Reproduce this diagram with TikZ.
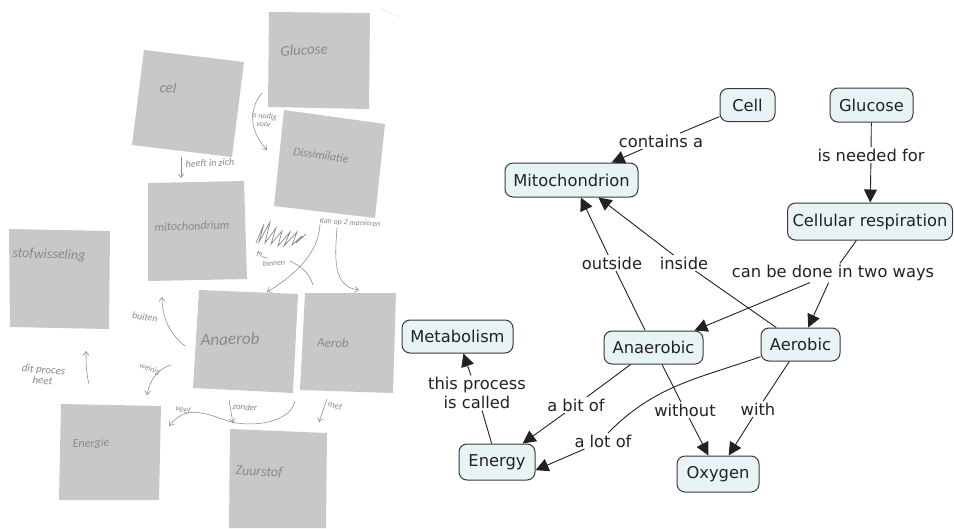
\documentclass[tikz,border=0pt]{standalone}
\usepackage{fontspec}
\setmainfont{DejaVu Sans}
\newfontfamily\handfont{Carlito}
\usetikzlibrary{arrows.meta}
\definecolor{sheet}{HTML}{C8C8C8}
\definecolor{pencil}{HTML}{8A8A8A}
\definecolor{boxfill}{HTML}{E8F3F6}
\definecolor{boxline}{HTML}{3A3A3A}
\definecolor{inkc}{HTML}{222222}
\tikzset{
  sheetbox/.style={fill=sheet,draw=none},
  hand/.style={font=\handfont\fontsize{#1}{#1}\selectfont\itshape,text=pencil,inner sep=0pt,align=center},
  hand/.default=9,
  pen/.style={draw=pencil,line width=0.55pt},
  penarrow/.style={pen,-{Straight Barb[length=4pt,width=6pt]}},
  concept/.style={draw=boxline,fill=boxfill,line width=1pt,rounded corners=8pt,inner sep=0pt,text=inkc,
    font=\fontsize{16.3}{19}\selectfont},
  linkname/.style={inner sep=1.5pt,text=inkc,align=center,font=\fontsize{16.3}{19}\selectfont},
  plain/.style={draw=inkc,line width=0.9pt},
  arrowed/.style={plain,-{Triangle[length=13pt,width=13pt]}}
}
\begin{document}
\begin{tikzpicture}[x=1pt,y=-1pt]
\useasboundingbox (0,0) rectangle (954,528);
\fill[white] (0,0) rectangle (954,528);

% left: sheets
\fill[sheetbox] (269,12) -- (370,13) -- (369,109) -- (268,107) -- cycle;
\fill[sheetbox] (144,50) -- (244,62) -- (232,157) -- (132,145) -- cycle;
\fill[sheetbox] (284,110) -- (385,124) -- (375,218) -- (274,206) -- cycle;
\fill[sheetbox] (148,183) -- (244,181) -- (247,279) -- (148,281) -- cycle;
\fill[sheetbox] (9,229) -- (110,231) -- (109,329) -- (10,327) -- cycle;
\fill[sheetbox] (199,290) -- (298,294) -- (293,393) -- (193,388) -- cycle;
\fill[sheetbox] (305,293) -- (396,293) -- (393,393) -- (300,390) -- cycle;
\fill[sheetbox] (61,404) -- (161,406) -- (159,500) -- (59,500) -- cycle;
\fill[sheetbox] (230,429) -- (327,433) -- (326,528) -- (229,528) -- cycle;

% left: handwriting
\node[hand=15,rotate=3] (hGlucose) at (304,50) {Glucose};
\node[hand=15,rotate=-4] (hCel) at (168,88) {cel};
\node[hand=12,rotate=-8] (hDiss) at (321,155) {Dissimilatie};
\node[hand=12,rotate=2] (hMito) at (192,226) {mitochondrium};
\node[hand=14,rotate=-2] (hStof) at (49,255) {stofwisseling};
\node[hand=17,rotate=2] (hAna) at (230,339) {Anaerob};
\node[hand=13,rotate=-2] (hAer) at (333,343) {Aerob};
\node[hand=12,rotate=2] (hEn) at (91,444) {Energie};
\node[hand=14,rotate=-3] (hZu) at (259,472) {Zuurstof};
\node[hand=8,rotate=-5] (lNodig) at (264,120) {is nodig\\voor};
\node[hand=10,rotate=2] (lHeeft) at (210,163) {heeft in zich};
\node[hand=8,rotate=-3] (lKan) at (350,223) {Kan op 2 manieren};
\node[hand=8,rotate=4] (lBinnen) at (274,263) {binnen};
\node[hand=10,rotate=-8] (lBuiten) at (145,317) {buiten};
\node[hand=11,rotate=-5] (lDit) at (43,375) {dit proces\\heet};
\node[hand=8,rotate=-20] (lWeinig) at (150,369) {weinig};
\node[hand=9,rotate=-15] (lVeel) at (183,409) {veel};
\node[hand=9,rotate=-5] (lZonder) at (245,407) {zonder};
\node[hand=9,rotate=-15] (lMet) at (335,406) {met};

% left: pencil arrows
\draw[penarrow] (262,93) .. controls (248,110) and (250,132) .. (267,150);
\draw[penarrow] (181,157) -- (181,178);
\draw[penarrow] (320,224) .. controls (319,250) and (300,272) .. (267,292);
\draw[penarrow] (337,228) .. controls (335,255) and (332,287) .. (359,290);
\draw[pen] (313,285) .. controls (309,272) and (300,266) .. (290,261);
\draw[penarrow] (268,258) .. controls (263,258) and (260,256) .. (258,251);
\draw[penarrow] (185,346) .. controls (172,336) and (162,320) .. (162,297);
\draw[penarrow] (89,384) .. controls (86,372) and (86,362) .. (86,351);
\draw[penarrow] (171,365) .. controls (160,368) and (150,378) .. (147,395);
\draw[penarrow] (295,401) .. controls (290,425) and (245,428) .. (225,420) .. controls (205,413) and (185,405) .. (169,426);
\draw[penarrow] (229,400) -- (233,423);
\draw[penarrow] (327,399) -- (319,422);
\draw[pen,line width=0.7pt] (256,243) -- (264,224) -- (259,242) -- (270,222) -- (265,243) -- (276,228) -- (271,244) -- (282,231) -- (278,246) -- (290,232) -- (284,246) -- (297,232) -- (292,245) -- (302,236) -- (296,243) -- (306,234);
\draw[draw=black!8,line width=0.6pt] (380,9) -- (400,17);

% right: concepts
\node[concept,minimum width=55pt,minimum height=33pt] (cell) at (747.5,105) {Cell};
\node[concept,minimum width=83pt,minimum height=34pt] (glucose) at (871.5,105) {Glucose};
\node[concept,minimum width=133pt,minimum height=34pt] (mito) at (571.5,180) {Mitochondrion};
\node[concept,minimum width=165pt,minimum height=37pt] (resp) at (870,221.5) {Cellular respiration};
\node[concept,minimum width=111pt,minimum height=33pt] (metab) at (457.5,336.5) {Metabolism};
\node[concept,minimum width=99pt,minimum height=33pt] (anaer) at (653.5,347.5) {Anaerobic};
\node[concept,minimum width=79pt,minimum height=33pt] (aer) at (800.5,344.5) {Aerobic};
\node[concept,minimum width=76pt,minimum height=36pt] (energy) at (497,462) {Energy};
\node[concept,minimum width=82pt,minimum height=36pt] (oxygen) at (718,474) {Oxygen};

% right: link names
\node[linkname] (contains) at (661,141) {contains a};
\node[linkname] (needed) at (871,155) {is needed for};
\node[linkname] (twoways) at (833,273) {can be done in two ways};
\node[linkname] (outside) at (612,263) {outside};
\node[linkname] (inside) at (684,263) {inside};
\node[linkname] (called) at (477,393) {this process\\is called};
\node[linkname] (bitof) at (576,405) {a bit of};
\node[linkname] (lotof) at (603,441) {a lot of};
\node[linkname] (without) at (685,410) {without};
\node[linkname] (with) at (758,409) {with};

% right: connectors
\draw[plain] (cell) -- (contains);
\draw[arrowed] (contains) -- (mito);
\draw[plain] (glucose) -- (needed);
\draw[arrowed] (needed) -- (resp);
\draw[plain] (resp) -- (twoways);
\draw[arrowed] (twoways) -- (anaer);
\draw[arrowed] (twoways) -- (aer);
\draw[plain] (anaer) -- (outside);
\draw[arrowed] (outside) -- (mito.-62);
\draw[plain] (aer) -- (inside);
\draw[arrowed] (inside) -- (mito.-33);
\draw[plain] (anaer) -- (bitof);
\draw[arrowed] (bitof) -- (energy);
\draw[plain] (aer.197) .. controls (700,378) and (655,385) .. (lotof.58);
\draw[arrowed] (lotof) -- (energy.-12);
\draw[plain] (anaer) -- (without);
\draw[arrowed] (without) -- (oxygen);
\draw[plain] (aer) -- (with);
\draw[arrowed] (with) -- (oxygen.60);
\draw[plain] (energy) -- (called);
\draw[arrowed] (called) -- (metab);
\end{tikzpicture}
\end{document}
